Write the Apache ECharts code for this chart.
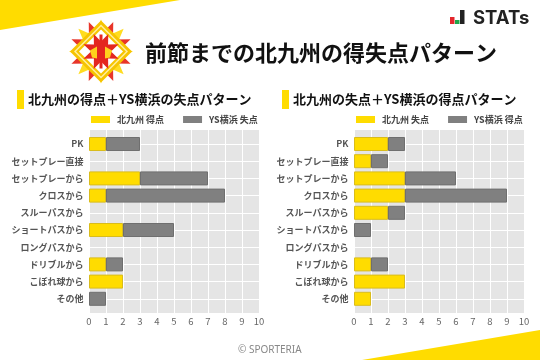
<!DOCTYPE html>
<html><head><meta charset="utf-8">
<style>html,body{margin:0;padding:0;background:#fff}#c{width:540px;height:360px}</style>
<script src="https://cdn.jsdelivr.net/npm/echarts@6/dist/echarts.min.js"></script>
</head><body><div id="c"></div>
<script>
const categories = ['PK','セットプレー直接','セットプレーから','クロスから','スルーパスから','ショートパスから','ロングパスから','ドリブルから','こぼれ球から','その他'];
const kitakyushuFor = [1,0,3,1,0,2,0,1,2,0];
const yokohamaAgainst = [2,0,4,7,0,3,0,1,0,1];
const kitakyushuAgainst = [2,1,3,3,2,0,0,1,3,1];
const yokohamaFor = [1,1,3,6,1,1,0,1,0,0];
const xTicks = [0,1,2,3,4,5,6,7,8,9,10];
const mainTitle = '前節までの北九州の得失点パターン';
const leftTitle = '北九州の得点＋YS横浜の失点パターン';
const rightTitle = '北九州の失点＋YS横浜の得点パターン';
const namesLeft = ['北九州 得点','YS横浜 失点'];
const namesRight = ['北九州 失点','YS横浜 得点'];

const FONT = '"Noto Sans CJK JP","Noto Sans",sans-serif';
const YEL = '#ffdc00', YB = '#d9bc1c', GR = '#808080', GB = '#6f6f6f';
const chart = echarts.init(document.getElementById('c'), null, {renderer:'canvas'});
const panels = [
  {x:89, a:kitakyushuFor, b:yokohamaAgainst, names:namesLeft, legendX:91},
  {x:354, a:kitakyushuAgainst, b:yokohamaFor, names:namesRight, legendX:356}
];
const W=170, grids=[], xAxes=[], yAxes=[], series=[], legends=[];
panels.forEach((p,i)=>{
  const g0=grids.length;
  grids.push({left:p.x,width:W,top:130,height:183,backgroundColor:'#e5e5e5',show:true,borderWidth:0,containLabel:false});
  grids.push({left:p.x,width:W,top:144,height:154.8,show:false});
  xAxes.push({gridIndex:g0,type:'value',min:0,max:10,interval:1,
    axisLine:{show:false},axisTick:{show:false},
    splitLine:{show:true,lineStyle:{color:'#fff',width:1}},
    axisLabel:{color:'#666',fontSize:9.5,fontFamily:FONT,margin:4,hideOverlap:false,showMinLabel:true,showMaxLabel:true,
      formatter:v=>String(xTicks[v])}});
  xAxes.push({gridIndex:g0+1,type:'value',min:0,max:10,interval:1,show:false});
  yAxes.push({gridIndex:g0,type:'value',min:0,max:1,show:false});
  yAxes.push({gridIndex:g0+1,type:'category',data:categories,inverse:true,boundaryGap:false,
    axisLine:{show:false},axisTick:{show:false},
    splitLine:{show:true,lineStyle:{color:'#fff',width:1}},
    axisLabel:{color:'#555',fontSize:9,fontWeight:'bold',fontFamily:FONT,margin:5.5,interval:0}});
  [[p.a,YEL,YB,p.names[0]],[p.b,GR,GB,p.names[1]]].forEach(([d,c,bc,n])=>{
    series.push({type:'bar',name:n,xAxisIndex:g0+1,yAxisIndex:g0+1,stack:'s'+i,barWidth:14,clip:false,
      data:d.map(v=>v===0?'-':v),
      itemStyle:{color:c,borderColor:bc,borderWidth:1},
      emphasis:{disabled:true},animation:false});
  });
  legends.push({data:p.names,left:p.legendX,top:115,itemWidth:19,itemHeight:7,itemGap:19,padding:0,icon:'rect',
    itemStyle:{borderWidth:0},
    selectedMode:false,textStyle:{color:'#444',fontSize:9,fontWeight:'bold',fontFamily:FONT,padding:[0,0,0,2]}});
});

function star(cx,cy,n,R,r,rot){const pts=[];for(let i=0;i<2*n;i++){const a=rot+i*Math.PI/n,q=i%2?r:R;pts.push([cx+q*Math.sin(a),cy-q*Math.cos(a)]);}return pts;}
const cx=101, cy=51.5;
const poly=(points,fill,extra)=>Object.assign({type:'polygon',shape:{points},style:{fill}},extra||{});
const dia=(r,fill)=>poly([[cx,cy-r],[cx+r,cy],[cx,cy+r],[cx-r,cy]],fill);
const rect=(x,y,w,h,fill)=>({type:'rect',shape:{x,y,width:w,height:h},style:{fill}});
const graphic=[
  poly([[0,0],[180,0],[0,30]],YEL),
  poly([[540,330],[540,360],[362,360]],YEL),
  poly(star(cx,cy,8,32,17,0),'#ffdc20'),
  poly(star(cx,cy,8,32,17,Math.PI/8),'#e8352a'),
  dia(31,'#f6c400'),dia(27,'#fff0a0'),dia(25,'#f7c600'),dia(22,'#ffffff'),
  poly(star(cx,cy,8,19,10,Math.PI/8),'#e4261f'),
  poly([[cx-11,cy-1],[cx-4,cy-5],[cx-4,cy+7],[cx-9,cy+6]],'#ffd21c'),
  poly([[cx+11,cy-1],[cx+4,cy-5],[cx+4,cy+7],[cx+9,cy+6]],'#ffd21c'),
  rect(cx-1.5,cy-17,3,34,'#e4261f'),
  rect(17,90,7,19,YEL),
  rect(282,90,7,19,YEL),
  rect(450,17,4.5,7,'#e4262c'),
  rect(455,20,4.5,4,'#1fa64a'),
  rect(460,10,4.5,14,'#222'),
];
const title=[
  {text:mainTitle,left:145,top:38,textStyle:{fontFamily:FONT,fontSize:22,fontWeight:'bold',color:'#111',lineHeight:30},padding:0},
  {text:leftTitle,left:28,top:90,textStyle:{fontFamily:FONT,fontSize:13,fontWeight:'bold',color:'#111',lineHeight:19},padding:0},
  {text:rightTitle,left:293,top:90,textStyle:{fontFamily:FONT,fontSize:13,fontWeight:'bold',color:'#111',lineHeight:19},padding:0},
  {text:'STATs',left:473,top:8,textStyle:{fontFamily:'Inter,sans-serif',fontSize:18.5,fontWeight:'bold',color:'#222',lineHeight:20},padding:0},
  {text:'© SPORTERIA',left:238,top:343,textStyle:{fontFamily:'"Noto Sans",sans-serif',fontSize:10,fontWeight:'normal',color:'#888',lineHeight:14},padding:0}
];
chart.setOption({animation:false,title,legend:legends,grid:grids,xAxis:xAxes,yAxis:yAxes,series,graphic});
</script></body></html>
